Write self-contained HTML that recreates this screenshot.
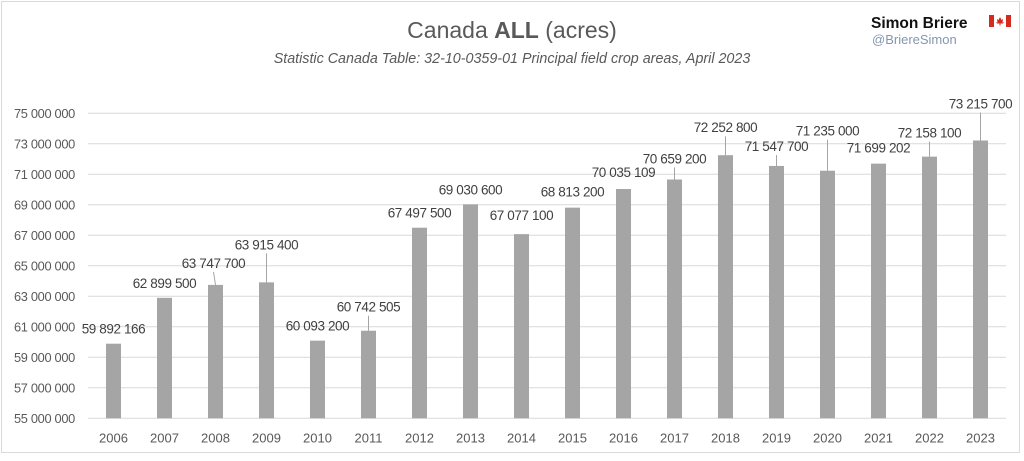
<!DOCTYPE html>
<html><head><meta charset="utf-8">
<style>
body{margin:0;background:#fff;}
svg text{font-family:"Liberation Sans",sans-serif;}
</style></head>
<body>
<svg id="chart" width="1024" height="456" viewBox="0 0 1024 456">
<rect x="1.5" y="1.5" width="1018" height="451" fill="#fff" stroke="#d9d9d9"/>
<text x="512" y="38" text-anchor="middle" font-size="23" fill="#595959">Canada <tspan font-weight="bold">ALL</tspan> (acres)</text>
<text x="512" y="63" text-anchor="middle" font-size="14.3" font-style="italic" fill="#595959">Statistic Canada Table: 32-10-0359-01 Principal field crop areas, April 2023</text>
<text x="871" y="28" font-size="15.5" font-weight="bold" fill="#111">Simon Briere</text>
<g>
<rect x="989" y="15" width="5" height="12" fill="#d52b1e"/><rect x="994" y="15" width="12" height="12" fill="#fff"/><rect x="1006" y="15" width="5" height="12" fill="#d52b1e"/>
<path d="M1000 17 l1.5 3 1.5-1 -0.5 3.5 1.5-0.5 -1 1.5 h-2.5 v2 h-1 v-2 h-2.5 l-1-1.5 1.5 0.5 -0.5-3.5 1.5 1z" fill="#d52b1e"/>
</g>
<text x="872" y="44" font-size="13" fill="#8497b0">@BriereSimon</text>
<g id="grid"></g><g id="bars"></g><g id="labels"></g>
</svg>
<script>
const years=["2006","2007","2008","2009","2010","2011","2012","2013","2014","2015","2016","2017","2018","2019","2020","2021","2022","2023"];
const areas=[59892166,62899500,63747700,63915400,60093200,60742505,67497500,69030600,67077100,68813200,70035109,70659200,72252800,71547700,71235000,71699202,72158100,73215700];
const valueLabels=["59 892 166","62 899 500","63 747 700","63 915 400","60 093 200","60 742 505","67 497 500","69 030 600","67 077 100","68 813 200","70 035 109","70 659 200","72 252 800","71 547 700","71 235 000","71 699 202","72 158 100","73 215 700"];
const yTicks=[55000000,57000000,59000000,61000000,63000000,65000000,67000000,69000000,71000000,73000000,75000000];
const yTickLabels=["55 000 000","57 000 000","59 000 000","61 000 000","63 000 000","65 000 000","67 000 000","69 000 000","71 000 000","73 000 000","75 000 000"];
const labelLift=[8,8,15,31,8,17,8,8,12,9,10,14,21,13,33,9,17,30];
const labelShift=[0,0,-2,0,0,0,0,0,0,0,0,0,0,0,0,0,0,0];
const X0=88,X1=1006,Y0=418.3,Y1=113.3,MIN=55000000,MAX=75000000;
const bw=(X1-X0)/years.length;
const xS=i=>X0+bw*(i+0.5);
const yS=v=>Y0-(v-MIN)/(MAX-MIN)*(Y0-Y1);
const NS="http://www.w3.org/2000/svg";
function mk(t,a,p){const e=document.createElementNS(NS,t);for(const k in a)e.setAttribute(k,a[k]);p.appendChild(e);return e;}
const g=document.getElementById('grid'),b=document.getElementById('bars'),l=document.getElementById('labels');
yTicks.forEach((v,i)=>{
 const ln=mk('line',{x1:X0,x2:X1,y1:yS(v),y2:yS(v),stroke:'#d9d9d9','stroke-width':1},g);
 
 
 const t=mk('text',{x:75,y:yS(v)+4.5,'text-anchor':'end','font-size':12.8,'letter-spacing':-0.3,fill:'#595959'},g);
 t.textContent=yTickLabels[i];
 
 
});
years.forEach((yr,i)=>{
 const top=yS(areas[i]);
 const r=mk('rect',{x:xS(i)-7.5,y:top,width:15,height:Y0-top,fill:'#a5a5a5'},b);
 
 
 const t=mk('text',{x:xS(i),y:Y0+24,'text-anchor':'middle','font-size':13,fill:'#595959'},g);
 t.textContent=yr;
 
 
 const ly=top-labelLift[i];
 if(labelLift[i]>12){
  const ld=mk('line',{x1:xS(i)+labelShift[i],y1:ly+2,x2:xS(i),y2:top,stroke:'#a5a5a5','stroke-width':1},l);
  
  
 }
 const vt=mk('text',{x:xS(i)+labelShift[i],y:ly-2,'text-anchor':'middle','font-size':13.5,'letter-spacing':-0.4,fill:'#404040'},l);
 vt.textContent=valueLabels[i];
 
 
});
</script>
</body></html>
